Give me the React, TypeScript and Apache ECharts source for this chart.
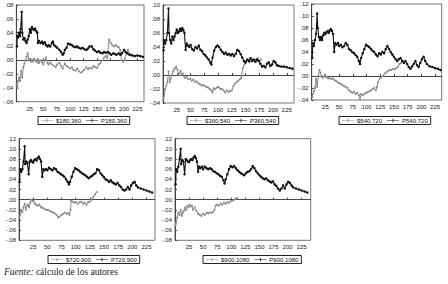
import React, { useEffect, useRef } from "react";
import * as echarts from "echarts";

type Pt = [number, number];

// Series names
const sNames = ["$180,360", "$360,540", "$540,720", "$720,900", "$900,1080"];
const pNames = ["P180,360", "P360,540", "P540,720", "P720,900", "P900,1080"];

// Axis ranges per panel
const yMins = [-0.06, -0.04, -0.04, -0.08, -0.08];
const yMaxs = [0.08, 0.1, 0.12, 0.12, 0.12];
const xMaxs = [237, 238, 237, 240, 241];
const xInterval = 25;
const yInterval = 0.02;

const footnoteItalic = "Fuente:";
const footnoteText = " cálculo de los autores";

// Panel 1
const p1: Pt[] = [[1,0.02],[2,0.035],[3,0.033],[5,0.04],[7,0.035],[8,0.045],[10,0.07],[11,0.04],[13,0.03],[15,0.032],[17,0.028],[19,0.025],[21,0.03],[23,0.035],[25,0.045],[27,0.04],[29,0.048],[31,0.045],[33,0.044],[35,0.046],[37,0.042],[39,0.04],[40,0.025],[42,0.028],[45,0.025],[48,0.027],[50,0.024],[53,0.026],[55,0.022],[58,0.02],[60,0.022],[63,0.02],[66,0.025],[68,0.027],[70,0.022],[73,0.02],[76,0.018],[80,0.015],[83,0.012],[86,0.008],[88,0.01],[90,0.015],[93,0.018],[96,0.024],[100,0.023],[103,0.022],[106,0.02],[110,0.019],[113,0.02],[116,0.018],[120,0.017],[123,0.018],[126,0.016],[130,0.015],[133,0.017],[136,0.02],[140,0.02],[143,0.016],[146,0.014],[150,0.012],[153,0.013],[156,0.011],[160,0.01],[163,0.012],[166,0.011],[170,0.012],[173,0.01],[176,0.008],[180,0.01],[183,0.009],[186,0.008],[190,0.01],[193,0.008],[196,0.01],[200,0.015],[203,0.012],[206,0.01],[210,0.008],[215,0.007],[220,0.006],[225,0.007],[230,0.006],[235,0.005]];
const s1: Pt[] = [[1,-0.035],[2,-0.04],[3,-0.03],[5,-0.025],[7,-0.03],[9,-0.015],[11,-0.025],[13,-0.01],[15,-0.005],[17,0.0],[19,0.005],[21,0.01],[23,0.002],[25,0.0],[27,-0.002],[29,0.001],[31,-0.002],[33,0.002],[35,0.0],[38,-0.003],[40,0.002],[42,-0.004],[45,0.0],[48,-0.003],[50,-0.006],[53,0.0],[55,0.004],[58,-0.004],[60,-0.006],[63,-0.003],[66,-0.006],[70,-0.008],[73,-0.01],[76,-0.006],[80,-0.004],[83,-0.008],[86,-0.012],[90,-0.005],[93,-0.008],[96,-0.01],[100,-0.012],[103,-0.01],[106,-0.014],[110,-0.015],[113,-0.012],[116,-0.016],[120,-0.018],[123,-0.016],[126,-0.014],[130,-0.01],[133,-0.013],[136,-0.011],[140,-0.012],[143,-0.008],[146,-0.01],[150,-0.011],[153,-0.006],[156,-0.004],[160,0.0],[163,0.004],[166,0.006],[169,0.003],[172,0.03],[175,0.025],[178,0.022],[181,0.02],[184,0.022],[187,0.02],[190,0.019],[193,0.015],[195,0.0],[198,-0.002],[201,0.0],[204,0.01],[207,0.015],[210,0.01],[213,0.008],[216,0.007]];

// Panel 2
const p2: Pt[] = [[1,0.035],[2,0.05],[4,0.045],[6,0.05],[8,0.06],[10,0.095],[11,0.06],[13,0.05],[15,0.045],[17,0.055],[19,0.05],[21,0.055],[23,0.06],[25,0.065],[27,0.06],[29,0.062],[31,0.066],[33,0.063],[35,0.067],[37,0.064],[39,0.06],[41,0.036],[43,0.045],[45,0.042],[48,0.04],[50,0.043],[53,0.037],[56,0.035],[59,0.04],[62,0.038],[65,0.042],[68,0.036],[71,0.034],[74,0.03],[77,0.028],[80,0.025],[83,0.022],[86,0.018],[88,0.015],[90,0.025],[93,0.035],[96,0.04],[99,0.042],[102,0.04],[105,0.036],[108,0.033],[111,0.03],[114,0.032],[117,0.029],[120,0.03],[123,0.028],[126,0.03],[129,0.027],[132,0.03],[135,0.036],[138,0.034],[141,0.03],[144,0.025],[147,0.02],[150,0.018],[153,0.022],[156,0.02],[159,0.024],[162,0.02],[165,0.022],[168,0.019],[171,0.022],[174,0.02],[177,0.016],[180,0.012],[183,0.013],[186,0.011],[189,0.016],[192,0.018],[195,0.013],[198,0.015],[201,0.02],[204,0.018],[207,0.014],[210,0.013],[215,0.012],[220,0.012],[225,0.011],[230,0.01],[235,0.009]];
const s2: Pt[] = [[1,-0.035],[2,-0.03],[4,-0.02],[6,-0.015],[8,-0.01],[10,0.005],[12,-0.01],[14,-0.005],[16,0.0],[18,0.005],[20,0.008],[22,0.01],[24,0.012],[26,0.008],[28,0.0],[30,0.003],[32,0.006],[34,0.0],[36,0.002],[38,-0.002],[40,-0.004],[43,-0.003],[46,-0.006],[49,-0.005],[52,-0.008],[55,-0.007],[58,-0.01],[61,-0.009],[64,-0.012],[67,-0.013],[70,-0.015],[73,-0.014],[76,-0.016],[79,-0.017],[82,-0.018],[85,-0.02],[88,-0.022],[90,-0.025],[92,-0.019],[95,-0.02],[98,-0.018],[101,-0.017],[104,-0.02],[107,-0.02],[110,-0.022],[113,-0.025],[116,-0.022],[119,-0.024],[122,-0.023],[125,-0.022],[128,-0.016],[131,-0.012],[134,-0.01],[137,-0.008],[140,-0.006],[142,-0.004],[145,0.01],[148,0.015],[151,0.02],[154,0.022],[157,0.018],[160,0.02],[163,0.022],[166,0.02],[169,0.022],[172,0.024],[175,0.02],[178,0.022]];

// Panel 3
const p3: Pt[] = [[1,0.03],[2,0.055],[4,0.05],[6,0.06],[8,0.07],[10,0.104],[11,0.08],[13,0.065],[15,0.06],[17,0.065],[19,0.06],[21,0.068],[23,0.072],[25,0.07],[27,0.073],[29,0.075],[31,0.072],[33,0.076],[35,0.078],[37,0.075],[39,0.07],[41,0.04],[43,0.055],[45,0.052],[48,0.055],[50,0.05],[53,0.052],[56,0.048],[59,0.05],[62,0.055],[65,0.052],[68,0.045],[71,0.043],[74,0.04],[77,0.038],[80,0.035],[83,0.032],[86,0.025],[88,0.02],[90,0.03],[93,0.038],[96,0.045],[99,0.052],[102,0.05],[105,0.048],[108,0.045],[111,0.042],[114,0.04],[117,0.036],[120,0.033],[123,0.038],[126,0.036],[129,0.04],[132,0.038],[135,0.045],[138,0.05],[141,0.045],[144,0.04],[147,0.036],[150,0.032],[153,0.028],[156,0.025],[159,0.028],[162,0.03],[165,0.025],[168,0.022],[171,0.025],[174,0.02],[177,0.015],[180,0.012],[183,0.016],[186,0.02],[189,0.025],[192,0.018],[195,0.015],[198,0.022],[201,0.028],[204,0.032],[207,0.025],[210,0.02],[215,0.016],[220,0.015],[225,0.013],[230,0.012],[235,0.01]];
const s3: Pt[] = [[1,-0.035],[2,-0.03],[4,-0.025],[6,-0.02],[8,-0.005],[10,-0.018],[12,0.0],[14,0.01],[16,0.005],[18,0.0],[20,-0.003],[22,-0.001],[24,0.002],[26,-0.002],[28,-0.001],[30,-0.004],[32,-0.003],[35,-0.005],[38,-0.004],[41,-0.006],[44,-0.008],[47,-0.01],[50,-0.012],[53,-0.013],[56,-0.015],[59,-0.017],[62,-0.018],[65,-0.02],[68,-0.024],[71,-0.026],[74,-0.028],[77,-0.026],[80,-0.03],[83,-0.028],[86,-0.032],[88,-0.038],[90,-0.03],[93,-0.032],[96,-0.03],[99,-0.028],[102,-0.027],[105,-0.025],[108,-0.024],[111,-0.022],[114,-0.02],[117,-0.024],[119,-0.018],[121,-0.01],[124,-0.004],[127,-0.002],[130,0.0],[133,0.004],[136,0.006],[139,0.008],[142,0.01],[145,0.01],[148,0.012],[151,0.011],[154,0.013],[157,0.015],[160,0.02],[163,0.022],[166,0.025],[169,0.022]];

// Panel 4
const p4: Pt[] = [[1,0.035],[2,0.06],[4,0.055],[6,0.06],[8,0.075],[10,0.105],[11,0.07],[13,0.075],[15,0.072],[17,0.05],[19,0.075],[21,0.078],[23,0.075],[25,0.073],[27,0.078],[29,0.08],[31,0.077],[33,0.082],[35,0.085],[37,0.08],[39,0.075],[41,0.045],[43,0.06],[45,0.058],[48,0.06],[50,0.058],[53,0.063],[56,0.06],[59,0.058],[62,0.062],[65,0.06],[68,0.055],[71,0.053],[74,0.05],[77,0.048],[80,0.045],[83,0.04],[86,0.035],[88,0.03],[90,0.035],[93,0.045],[96,0.055],[99,0.062],[102,0.06],[105,0.058],[108,0.055],[111,0.052],[114,0.05],[117,0.048],[120,0.045],[123,0.042],[126,0.045],[129,0.047],[132,0.05],[135,0.052],[138,0.06],[141,0.058],[144,0.052],[147,0.048],[150,0.044],[153,0.04],[156,0.038],[159,0.035],[162,0.038],[165,0.034],[168,0.032],[171,0.03],[174,0.033],[177,0.028],[180,0.025],[183,0.02],[186,0.018],[189,0.02],[192,0.025],[195,0.02],[198,0.028],[201,0.033],[204,0.035],[207,0.028],[210,0.024],[215,0.022],[220,0.02],[225,0.018],[230,0.016],[235,0.014]];
const s4: Pt[] = [[1,-0.035],[2,-0.03],[4,-0.02],[6,-0.025],[8,-0.015],[10,-0.008],[12,-0.02],[14,-0.012],[16,-0.01],[18,-0.015],[20,-0.005],[22,0.0],[24,-0.003],[26,-0.002],[28,-0.008],[30,-0.01],[33,-0.012],[36,-0.01],[39,-0.015],[42,-0.016],[45,-0.018],[48,-0.02],[51,-0.02],[54,-0.022],[57,-0.024],[60,-0.025],[63,-0.027],[66,-0.03],[69,-0.035],[72,-0.033],[75,-0.03],[78,-0.028],[81,-0.025],[84,-0.028],[87,-0.026],[89,-0.03],[91,-0.02],[92,-0.002],[95,-0.004],[98,-0.006],[101,-0.005],[104,-0.008],[107,-0.005],[110,-0.004],[113,-0.008],[116,-0.006],[119,-0.01],[122,-0.005],[125,-0.004],[128,0.0],[131,0.005],[134,0.01],[137,0.015]];

// Panel 5
const p5: Pt[] = [[1,0.03],[2,0.06],[4,0.055],[6,0.065],[8,0.08],[10,0.1],[11,0.07],[13,0.078],[15,0.075],[17,0.05],[19,0.08],[21,0.078],[23,0.075],[25,0.074],[27,0.078],[29,0.08],[31,0.078],[33,0.083],[35,0.086],[37,0.082],[39,0.075],[41,0.055],[43,0.065],[45,0.062],[48,0.065],[50,0.06],[53,0.065],[56,0.062],[59,0.06],[62,0.062],[65,0.06],[68,0.056],[71,0.055],[74,0.052],[77,0.05],[80,0.047],[83,0.045],[86,0.038],[88,0.032],[90,0.04],[93,0.05],[96,0.06],[99,0.066],[102,0.064],[105,0.066],[108,0.062],[111,0.058],[114,0.055],[117,0.052],[120,0.05],[123,0.048],[126,0.052],[129,0.055],[132,0.056],[135,0.06],[138,0.066],[141,0.062],[144,0.056],[147,0.052],[150,0.048],[153,0.045],[156,0.042],[159,0.04],[162,0.042],[165,0.038],[168,0.036],[171,0.034],[174,0.036],[177,0.03],[180,0.027],[183,0.022],[186,0.018],[189,0.022],[192,0.028],[195,0.022],[198,0.03],[201,0.035],[204,0.033],[207,0.028],[210,0.024],[215,0.022],[220,0.02],[225,0.018],[230,0.016],[235,0.014]];
const s5: Pt[] = [[1,-0.05],[2,-0.045],[4,-0.035],[6,-0.025],[8,-0.03],[10,-0.02],[12,-0.032],[14,-0.025],[16,-0.022],[18,-0.015],[20,-0.02],[22,-0.012],[24,-0.015],[26,-0.01],[28,-0.013],[30,-0.012],[32,-0.02],[35,-0.015],[38,-0.022],[41,-0.028],[44,-0.03],[47,-0.032],[50,-0.028],[53,-0.03],[56,-0.026],[59,-0.027],[62,-0.025],[65,-0.026],[68,-0.024],[70,-0.02],[72,-0.012],[75,-0.01],[78,-0.012],[81,-0.008],[84,-0.01],[87,-0.006],[90,-0.008],[93,-0.005],[96,-0.006],[99,-0.003],[102,-0.002],[105,0.0],[108,0.002],[110,0.003]];

const pSeries = [p1, p2, p3, p4, p5];
const sSeries = [s1, s2, s3, s4, s5];

// Layout (pixels)
const grids = [
  { left: 14.5, top: 5, width: 129.5, height: 96.7 },
  { left: 163, top: 5, width: 131, height: 98 },
  { left: 311.7, top: 4, width: 130, height: 96 },
  { left: 19, top: 138.7, width: 136, height: 101.6 },
  { left: 175, top: 138.7, width: 135.7, height: 101.6 },
];
const legendPos = [
  { left: 38, top: 116.5 },
  { left: 187, top: 116.5 },
  { left: 339, top: 116.5 },
  { left: 48, top: 255.5 },
  { left: 203, top: 255.5 },
];

const SANS = "'Liberation Sans', Arial, sans-serif";
const SERIF = "'Liberation Serif', 'Times New Roman', serif";
// thin line with a small cross marker, in a 20x10 box
const LEGEND_ICON = "path://M0,4.4h20v1.2h-20z M9.3,2h1.4v6h-1.4z";

function fmtY(v: number): string {
  const s = Math.abs(v).toFixed(2).replace(/^0/, "");
  return v < -1e-9 ? "-" + s : s;
}

export default function App() {
  const ref = useRef<HTMLDivElement>(null);
  useEffect(() => {
    if (!ref.current) return;
    const chart = echarts.init(ref.current, undefined, { renderer: "svg" });
    const option: any = {
      animation: false,
      backgroundColor: "#ffffff",
      grid: grids.map((g) => ({
        ...g,
        show: true,
        borderColor: "#777",
        borderWidth: 1,
        backgroundColor: "transparent",
        containLabel: false,
      })),
      xAxis: grids.map((_, i) => ({
        type: "value",
        gridIndex: i,
        min: 0,
        max: xMaxs[i],
        interval: xInterval,
        axisLine: { show: true, lineStyle: { color: "#444", width: 1 } },
        axisTick: { show: true, inside: true, length: 2, lineStyle: { color: "#444" } },
        axisLabel: {
          fontSize: 6,
          fontFamily: SANS,
          color: "#222",
          margin: 4,
          showMinLabel: false,
          showMaxLabel: false,
        },
        splitLine: { show: false },
      })),
      yAxis: grids.map((_, i) => ({
        type: "value",
        gridIndex: i,
        min: yMins[i],
        max: yMaxs[i],
        interval: yInterval,
        axisLine: { show: true, lineStyle: { color: "#444", width: 1 } },
        axisTick: { show: true, inside: true, length: 2, lineStyle: { color: "#444" } },
        axisLabel: {
          fontSize: 6,
          fontFamily: SANS,
          color: "#222",
          margin: 3,
          formatter: fmtY,
        },
        splitLine: { show: false },
      })),
      legend: grids.map((_, i) => ({
        data: [
          { name: sNames[i], icon: LEGEND_ICON },
          { name: pNames[i], icon: LEGEND_ICON },
        ],
        left: legendPos[i].left,
        top: legendPos[i].top,
        orient: "horizontal",
        itemWidth: 12,
        itemHeight: 5,
        itemGap: 5,
        padding: [1, 3, 1, 3],
        borderColor: "#222",
        borderWidth: 1,
        textStyle: { fontSize: 6, fontFamily: SANS, color: "#111", padding: [0, 0, 0, -2] },
      })),
      series: grids.flatMap((_, i) => [
        {
          name: sNames[i],
          type: "line",
          xAxisIndex: i,
          yAxisIndex: i,
          data: sSeries[i],
          symbol: "circle",
          symbolSize: 2,
          showSymbol: true,
          lineStyle: { color: "#8c8c8c", width: 1 },
          itemStyle: { color: "#8c8c8c" },
          z: 2,
        },
        {
          name: pNames[i],
          type: "line",
          xAxisIndex: i,
          yAxisIndex: i,
          data: pSeries[i],
          symbol: "circle",
          symbolSize: 2.5,
          showSymbol: true,
          lineStyle: { color: "#111", width: 1.1 },
          itemStyle: { color: "#111" },
          z: 3,
        },
      ]),
      graphic: [
        {
          type: "text",
          left: 4,
          top: 267,
          style: {
            text: "{i|" + footnoteItalic + "}" + footnoteText,
            font: "9.5px " + SERIF,
            fill: "#222",
            rich: {
              i: { fontStyle: "italic", fontSize: 9.5, fontFamily: SERIF, fill: "#222" },
            },
          },
        },
      ],
    };
    chart.setOption(option);
    return () => chart.dispose();
  }, []);
  return (
    <div
      ref={ref}
      style={{ position: "fixed", left: 0, top: 0, width: 448, height: 284, background: "#fff" }}
    />
  );
}
